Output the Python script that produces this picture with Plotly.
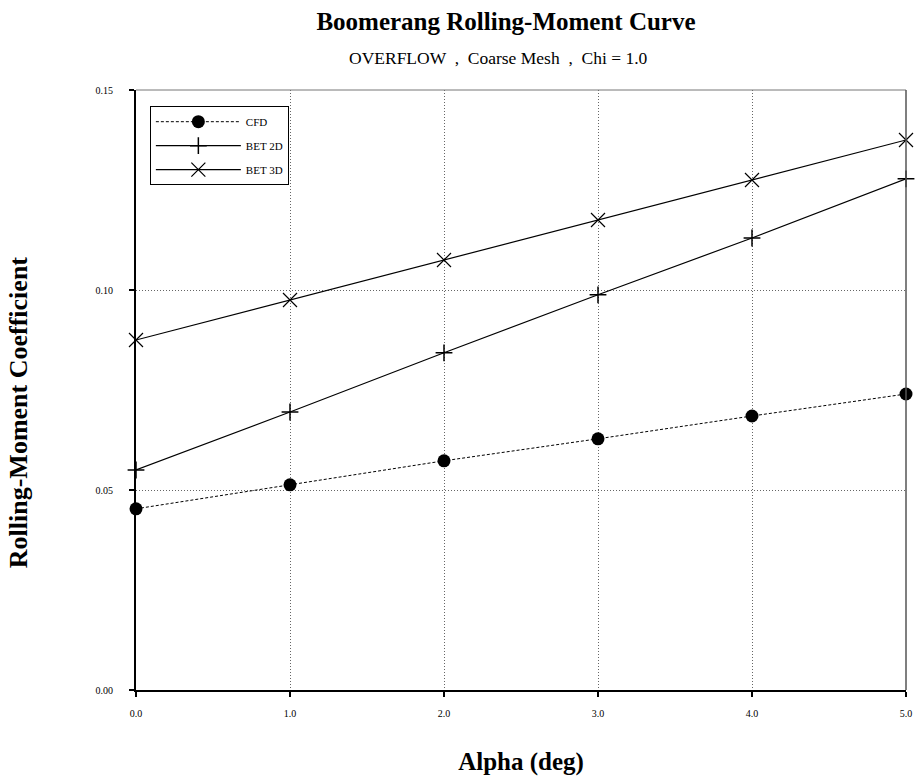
import plotly.graph_objects as go

# Data
alpha = [0, 1, 2, 3, 4, 5]
cfd = [0.0453, 0.0513, 0.0573, 0.0628, 0.0685, 0.0740]
bet_2d = [0.0550, 0.0695, 0.0843, 0.0988, 0.1130, 0.1278]
bet_3d = [0.0875, 0.0975, 0.1075, 0.1175, 0.1275, 0.1375]

x_ticks = [0, 1, 2, 3, 4, 5]
y_ticks = [0.0, 0.05, 0.10, 0.15]

serif = "Liberation Serif, Times New Roman, serif"

fig = go.Figure()

fig.add_trace(go.Scatter(x=alpha, y=cfd, name="CFD", mode="lines+markers",
                         legendgroup="a",
                         line=dict(color="black", width=1, dash="3px,2px"),
                         marker=dict(symbol="circle", size=13, color="black"),
                         cliponaxis=False))
fig.add_trace(go.Scatter(x=alpha, y=bet_2d, name="BET 2D", mode="lines+markers",
                         legendgroup="b",
                         line=dict(color="black", width=1.2),
                         marker=dict(symbol="cross-thin-open", size=12,
                                     line=dict(color="black", width=1.5)),
                         cliponaxis=False))
fig.add_trace(go.Scatter(x=alpha, y=bet_3d, name="BET 3D", mode="lines+markers",
                         legendgroup="c",
                         line=dict(color="black", width=1.2),
                         marker=dict(symbol="x-thin-open", size=14,
                                     line=dict(color="black", width=1.2)),
                         cliponaxis=False))

W, H = 917, 778

fig.update_layout(
    width=W, height=H,
    margin=dict(l=136, r=11, t=90, b=88, autoexpand=False),
    paper_bgcolor="white", plot_bgcolor="white",
    font=dict(family=serif, color="black", size=10),
    title=dict(text="<b>Boomerang Rolling-Moment Curve</b>",
               x=0.4805, xanchor="center", xref="paper",
               y=1 - 21 / H, yref="container", yanchor="middle",
               font=dict(size=25, family=serif)),
    legend=dict(x=0.018, y=0.973, xanchor="left", yanchor="top",
                bordercolor="black", borderwidth=1, bgcolor="white",
                font=dict(size=11, family=serif), itemwidth=85,
                tracegroupgap=5),
    annotations=[
        dict(text="OVERFLOW  ,  Coarse Mesh  ,  Chi = 1.0", xref="paper", yref="paper",
             x=0.471, y=1.0, yshift=32, yanchor="middle", showarrow=False,
             font=dict(size=17.5, family=serif)),
        # y axis title, sits a little below the axis middle in the reference
        dict(text="<b>Rolling-Moment Coefficient</b>", xref="paper", yref="paper",
             x=0, xshift=-118, y=0.463, textangle=-90, showarrow=False,
             xanchor="center", yanchor="middle",
             font=dict(size=26, family=serif)),
    ],
)

fig.update_xaxes(range=[0, 5], tickvals=x_ticks, tickformat=".1f",
                 showline=True, linecolor="black", linewidth=2,
                 ticks="outside", ticklen=5, tickwidth=2, tickcolor="black",
                 ticklabelstandoff=8, automargin=False,
                 showgrid=True, gridcolor="#666", griddash="1px,2px", gridwidth=1,
                 zeroline=False,
                 title=dict(text="<b>Alpha (deg)</b>", font=dict(size=25, family=serif),
                            standoff=34))
fig.update_yaxes(range=[0, 0.15], tickvals=y_ticks, tickformat=".2f",
                 showline=True, linecolor="black", linewidth=2,
                 ticks="outside", ticklen=5, tickwidth=2, tickcolor="black",
                 ticklabelstandoff=14, automargin=False,
                 showgrid=True, gridcolor="#666", griddash="1px,2px", gridwidth=1,
                 zeroline=False)

# top and right frame
fig.add_shape(type="line", xref="paper", yref="paper", x0=0, x1=1, y0=1, y1=1,
              line=dict(color="#777", width=1))
fig.add_shape(type="line", xref="paper", yref="paper", x0=1, x1=1, y0=0, y1=1,
              line=dict(color="#555", width=1.5))

# drop the default 8px page margin so the figure fills the window exactly
fig.write_html("out.html", config={"displayModeBar": False},
               post_script="document.body.style.margin='0';")
